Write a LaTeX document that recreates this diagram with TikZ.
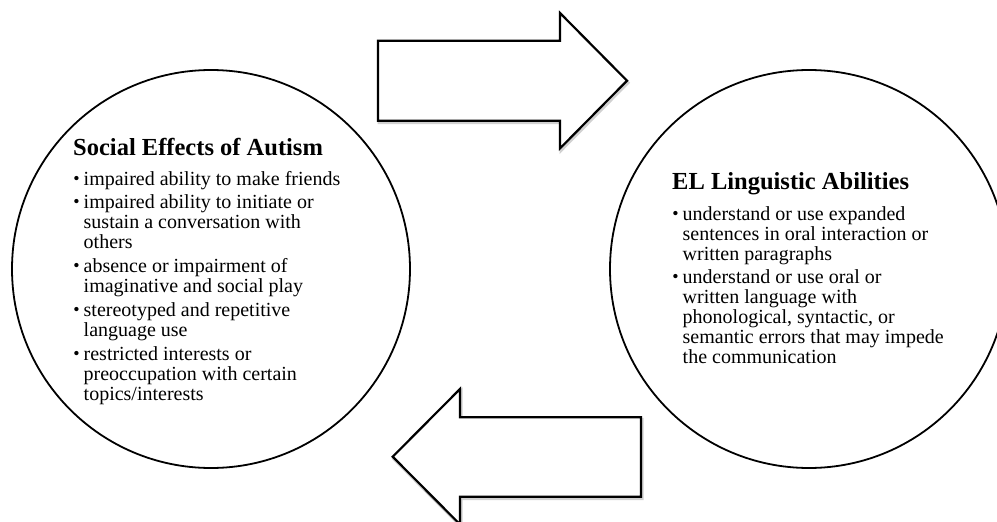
\documentclass[tikz,border=0pt]{standalone}
\usepackage{fontspec}
\setmainfont{Liberation Serif}
\newcommand\itemdot{\raisebox{0.6pt}{\fontsize{18}{18}\selectfont\textbullet}}
\newcommand\bul{\llap{\itemdot\hspace{4pt}}}
\begin{document}
\begin{tikzpicture}[x=1pt,y=-1pt,
  bubble/.style={circle, draw=black, line width=1.8pt, minimum size=398pt, inner sep=0pt},
  blockarrow/.style={draw=black, fill=white, line width=2.2pt, line join=miter},
  arrowshade/.style={draw=black!18, line width=3pt, line join=miter},
  title/.style={anchor=base west, inner sep=0pt, font=\fontsize{24.5}{26}\selectfont\bfseries},
  line/.style={anchor=base west, inner sep=0pt, font=\fontsize{20}{20}\selectfont}]
\useasboundingbox (0,0) rectangle (997,522);

% the two circles
\node[bubble] (social) at (211,269) {};
\node[bubble] (ling) at (809,269) {};

% block arrow pointing right (top), with a faint shadow underneath
\draw[arrowshade] (379,42.7) -- (561,42.7) -- (561,15) -- (628,82.7) -- (561,150.4) -- (561,122.7) -- (379,122.7) -- cycle;
\draw[blockarrow] (378,40.7) -- (560,40.7) -- (560,13) -- (627,80.7) -- (560,148.4) -- (560,120.7) -- (378,120.7) -- cycle;

% block arrow pointing left (bottom), with a faint shadow underneath
\draw[arrowshade] (393.7,458.7) -- (461,391) -- (461,419.3) -- (642,419.3) -- (642,498.7) -- (461,498.7) -- (461,526.4) -- cycle;
\draw[blockarrow] (392.7,456.7) -- (460,389) -- (460,417.3) -- (641,417.3) -- (641,496.7) -- (460,496.7) -- (460,524.4) -- cycle;

% left circle text
\node[title] (sTitle) at (73,155) {Social Effects of Autism};
\node[line] (s1)  at (83.5,185) {\bul impaired ability to make friends};
\node[line] (s2)  at (83.5,208) {\bul impaired ability to initiate or};
\node[line] (s3)  at (83.5,228) {sustain a conversation with};
\node[line] (s4)  at (83.5,248) {others};
\node[line] (s5)  at (83.5,272) {\bul absence or impairment of};
\node[line] (s6)  at (83.5,292) {imaginative and social play};
\node[line] (s7)  at (83.5,316) {\bul stereotyped and repetitive};
\node[line] (s8)  at (83.5,336) {language use};
\node[line] (s9)  at (83.5,360) {\bul restricted interests or};
\node[line] (s10) at (83.5,380) {preoccupation with certain};
\node[line] (s11) at (83.5,400) {topics/interests};

% right circle text
\node[title] (eTitle) at (672,189) {EL Linguistic Abilities};
\node[line] (e1) at (682.5,220) {\bul understand or use expanded};
\node[line] (e2) at (682.5,240) {sentences in oral interaction or};
\node[line] (e3) at (682.5,260) {written paragraphs};
\node[line] (e4) at (682.5,283) {\bul understand or use oral or};
\node[line] (e5) at (682.5,303) {written language with};
\node[line] (e6) at (682.5,323) {phonological, syntactic, or};
\node[line] (e7) at (682.5,343) {semantic errors that may impede};
\node[line] (e8) at (682.5,363) {the communication};
\end{tikzpicture}
\end{document}
